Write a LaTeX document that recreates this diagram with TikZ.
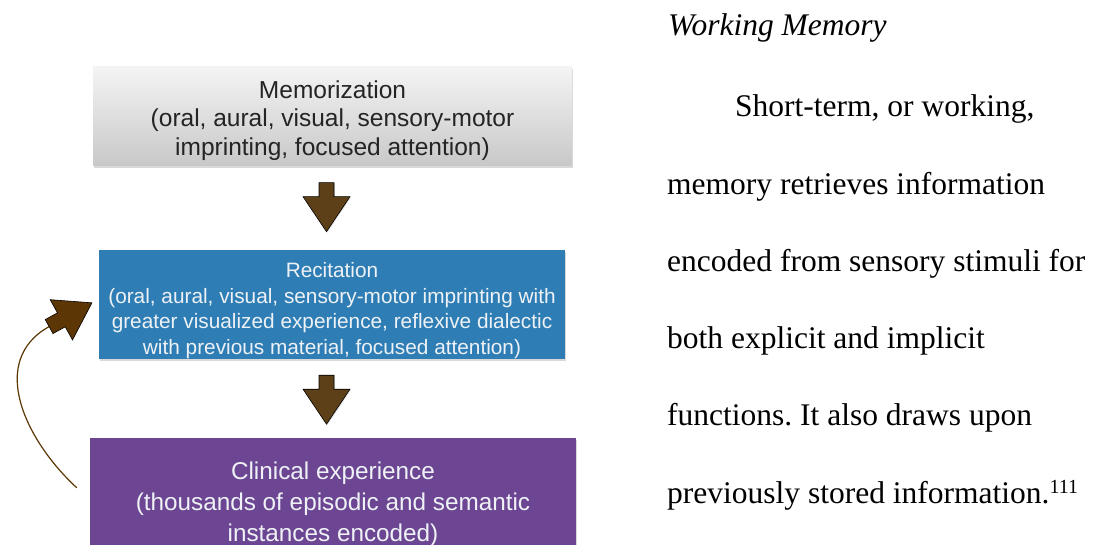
\documentclass[tikz,border=0pt]{standalone}
\usepackage{fontspec}
\setmainfont{Liberation Serif}
\newfontfamily\boxfont{Liberation Sans}
\usetikzlibrary{shadows,calc}
\frenchspacing

\definecolor{memtop}{RGB}{244,244,244}
\definecolor{membottom}{RGB}{200,200,200}
\definecolor{memtext}{RGB}{36,36,36}
\definecolor{recblue}{RGB}{46,126,181}
\definecolor{clinpurple}{RGB}{109,70,147}
\definecolor{boxtextlight}{RGB}{238,241,245}
\definecolor{arrowbrown}{RGB}{94,64,24}
\definecolor{loopbrown}{RGB}{92,54,4}

\tikzset{
  stagebox/.style={rectangle, inner sep=0pt, draw=none,
    drop shadow={opacity=0.3, shadow xshift=1.2pt, shadow yshift=-1.6pt}},
  stagetext/.style={align=center, inner sep=0pt},
  blockarrow/.style={fill=arrowbrown, draw=black, line width=0.6pt, line join=miter,
    drop shadow={opacity=0.2, shadow xshift=1pt, shadow yshift=-1pt}},
  loopline/.style={draw=loopbrown, line width=1.2pt},
  loophead/.style={fill=loopbrown, draw=black, line width=0.6pt, line join=miter},
  bodyline/.style={anchor=base west, inner sep=0pt, font=\fontsize{31.5}{37}\selectfont},
  downblock/.pic={
    \path[blockarrow] (-7.5,0) -- (7.5,0) -- (7.5,14) -- (23.5,14) -- (0,49)
      -- (-23.5,14) -- (-7.5,14) -- cycle;
  }
}

\begin{document}
\begin{tikzpicture}[x=1pt, y=-1pt]
\useasboundingbox (0,0) rectangle (1108,545);
\clip (0,0) rectangle (1108,545);

% the three stages
\node[stagebox, top color=memtop, bottom color=membottom,
      minimum width=479pt, minimum height=99pt] (mem) at (332.5,116.5) {};
\node[stagetext, text=memtext, font={\boxfont\fontsize{24.5}{28.5}\selectfont}]
  (memlabel) at ([yshift=-4pt]mem.center)
  {Memorization\\(oral, aural, visual, sensory-motor\\imprinting, focused attention)};

\node[stagebox, fill=recblue, minimum width=466pt, minimum height=109pt]
  (rec) at (332,304.5) {};
\node[stagetext, text=boxtextlight, font={\boxfont\fontsize{20.8}{25.5}\selectfont}]
  (reclabel) at ([yshift=-6pt]rec.center)
  {Recitation\\(oral, aural, visual, sensory-motor imprinting with\\greater visualized experience, reflexive dialectic\\with previous material, focused attention)};

\node[stagebox, fill=clinpurple, minimum width=486pt, minimum height=128pt]
  (clin) at (333,502) {};
\node[stagetext, text=boxtextlight, font={\boxfont\fontsize{24.3}{31}\selectfont}]
  (clinlabel) at ([yshift=-2.5pt]clin.center)
  {Clinical experience\\(thousands of episodic and semantic\\instances encoded)};

% block arrows between the stages
\pic at ($(mem.south)+(-6,16.5)$) {downblock};
\pic at ($(rec.south)+(-5.5,16)$) {downblock};

% feedback loop from clinical experience back to recitation
\coordinate (loopstart) at ($(clin.north west)+(-13,50)$);
\coordinate (headtail) at ($(rec.north west)+(-49.7,76.8)$);
\draw[loopline] (loopstart) .. controls +(-52,-48) and +(-61.3,34.2) .. (headtail);
\begin{scope}[shift={(headtail)}, x={(0.875pt,0.485pt)}, y={(0.485pt,-0.875pt)}]
  \path[loophead] (0,-8) -- (14,-8) -- (14,-23) -- (49,0) -- (14,23) -- (14,8)
    -- (0,8) -- cycle;
\end{scope}

% body text
\node[bodyline, font={\itshape\fontsize{31.5}{37}\selectfont}] (heading) at (668,36) {Working Memory};
\node[bodyline] (line1) at (735,117) {Short-term, or working,};
\node[bodyline] (line2) at (667,194.2) {memory retrieves information};
\node[bodyline] (line3) at (667,271.4) {encoded from sensory stimuli for};
\node[bodyline] (line4) at (667,348.6) {both explicit and implicit};
\node[bodyline] (line5) at (667,425.8) {functions. It also draws upon};
\node[bodyline] (line6) at (667,503) {previously stored information.{\fontsize{20}{20}\selectfont\raisebox{10pt}{111}}};
\end{tikzpicture}
\end{document}
